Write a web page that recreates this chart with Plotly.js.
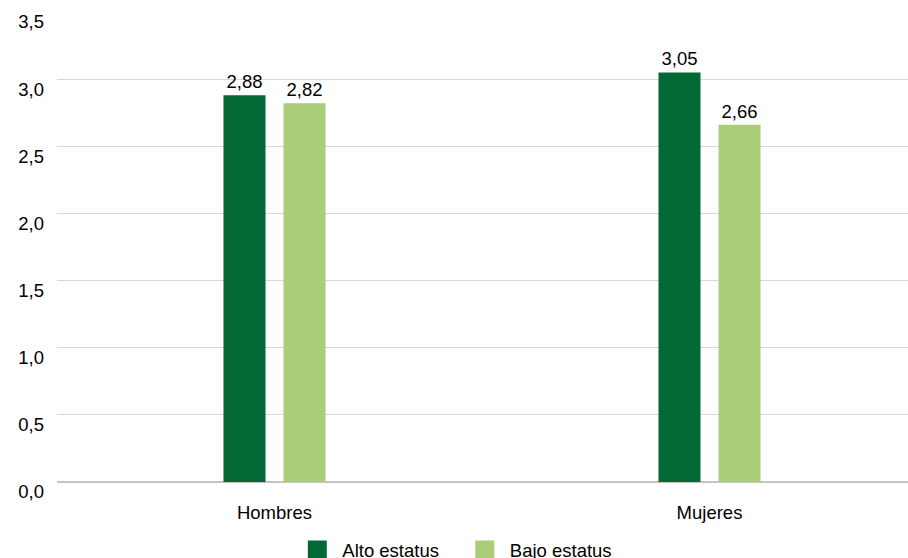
<!DOCTYPE html>
<html>
<head>
<meta charset="utf-8">
<script src="https://cdn.plot.ly/plotly-3.0.1.min.js"></script>
<style>
  html, body { margin: 0; padding: 0; background: #ffffff; }
  #chart { width: 908px; height: 558px; }
</style>
</head>
<body>
<div id="chart"></div>
<script>
// Grupos y series
const categorias = ['Hombres', 'Mujeres'];
const altoEstatus = [2.88, 3.05];
const bajoEstatus = [2.82, 2.66];
const nombresSeries = ['Alto estatus', 'Bajo estatus'];
const marcasY = [0, 0.5, 1, 1.5, 2, 2.5, 3, 3.5];
const etiquetasY = ['0,0', '0,5', '1,0', '1,5', '2,0', '2,5', '3,0', '3,5'];

const fuente = 'Liberation Sans, Arial, sans-serif';
const tam = 18.5;
const fmt = v => v.toFixed(2).replace('.', ',');

const trazas = [
  {
    type: 'bar', name: nombresSeries[0], x: categorias, y: altoEstatus,
    marker: { color: '#036934' },
    text: altoEstatus.map(fmt), textposition: 'outside', cliponaxis: false,
    textfont: { family: fuente, size: tam, color: '#000000' },
    hoverinfo: 'skip'
  },
  {
    type: 'bar', name: nombresSeries[1], x: categorias, y: bajoEstatus,
    marker: { color: '#aacd77' },
    text: bajoEstatus.map(fmt), textposition: 'outside', cliponaxis: false,
    textfont: { family: fuente, size: tam, color: '#000000' },
    hoverinfo: 'skip'
  }
];

const layout = {
  width: 908, height: 558,
  margin: { l: 57, r: 0, t: 12, b: 76, autoexpand: false },
  paper_bgcolor: '#ffffff', plot_bgcolor: '#ffffff',
  font: { family: fuente, size: tam, color: '#000000' },
  barmode: 'group', bargap: 0.724, bargroupgap: 0.3,
  separators: ',.',
  xaxis: {
    type: 'category', range: [-0.5, 1.4563],
    showgrid: false, zeroline: false, showline: false, ticks: '',
    tickfont: { family: fuente, size: tam, color: '#000000' },
    ticklabelstandoff: 17
  },
  yaxis: {
    range: [0, 3.5], tickvals: marcasY, ticktext: etiquetasY,
    showgrid: true, gridcolor: '#d9d9d9', gridwidth: 1,
    zeroline: true, zerolinecolor: '#c4c4c4', zerolinewidth: 2,
    showline: false, ticks: '',
    tickfont: { family: fuente, size: tam, color: '#000000' },
    ticklabelstandoff: 12, ticklabelshift: 10
  },
  showlegend: true,
  legend: {
    orientation: 'h', x: 0.2765, xanchor: 'left', y: -0.105, yanchor: 'top',
    entrywidth: 112.5, entrywidthmode: 'pixels', itemwidth: 40,
    font: { family: fuente, size: tam, color: '#000000' },
    bgcolor: 'rgba(0,0,0,0)', traceorder: 'normal'
  }
};

Plotly.newPlot('chart', trazas, layout, { staticPlot: true, displayModeBar: false })
  .then(gd => {
    // cuadros de la leyenda más grandes
    gd.querySelectorAll('.legend .legendpoints path').forEach(p => {
      p.setAttribute('d', 'M9.5,9.5H-9.5V-9.5H9.5Z');
    });
  });
</script>
</body>
</html>
